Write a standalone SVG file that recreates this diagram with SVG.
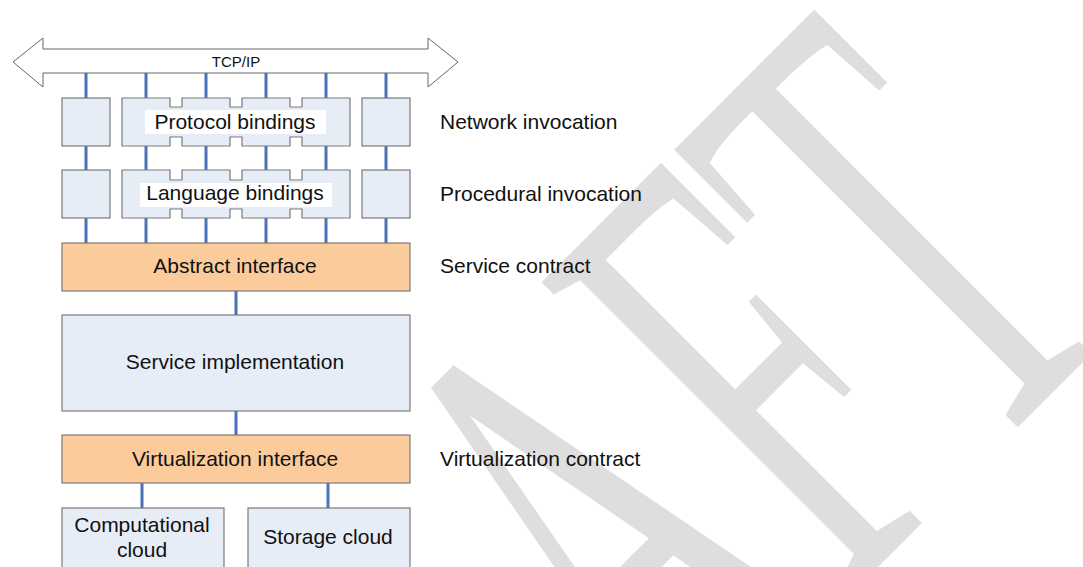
<svg xmlns="http://www.w3.org/2000/svg" width="1083" height="567" viewBox="0 0 1083 567">
<style>
.t{font-family:"Liberation Sans",Arial,sans-serif;font-size:21px;fill:#111;}
.c{text-anchor:middle;}
.box{fill:#e7edf6;stroke:#7a7a7a;stroke-width:1.2;}
.peach{fill:#fccb9b;stroke:#7a7a7a;stroke-width:1.2;}
.lbl{fill:#ffffff;stroke:none;}
.conn line{stroke:#4a72b8;stroke-width:3;}
</style>
<rect width="1083" height="567" fill="#ffffff"/>
<text id="watermark" x="0" y="0" transform="translate(331.5,1113.5) rotate(-45) scale(1,1.95)" style="font-family:'Liberation Serif','Times New Roman',serif;font-size:344px;fill:#dedede;">DRAFT</text>
<g class="conn" id="connectors">
<line x1="86" y1="72" x2="86" y2="243"/>
<line x1="146" y1="72" x2="146" y2="243"/>
<line x1="206" y1="72" x2="206" y2="243"/>
<line x1="266" y1="72" x2="266" y2="243"/>
<line x1="326" y1="72" x2="326" y2="243"/>
<line x1="386" y1="72" x2="386" y2="243"/>
<line x1="236" y1="291" x2="236" y2="315"/>
<line x1="236" y1="411" x2="236" y2="435"/>
<line x1="142" y1="483" x2="142" y2="508"/>
<line x1="328" y1="483" x2="328" y2="508"/>
</g>
<g id="tcpip">
<path d="M13,62 L43,38 L43,49 L428,49 L428,38 L458,62 L428,87 L428,73 L43,73 L43,87 Z" fill="#ffffff" stroke="#666" stroke-width="1"/>
<text class="c" x="236" y="67" style="font-family:'Liberation Sans',Arial,sans-serif;font-size:15px;fill:#111;">TCP/IP</text>
</g>
<g id="protocol-row">
<rect class="box" x="62" y="98" width="48" height="48"/>
<path class="box" d="M122,98 H170 V107 H182 V98 H230 V107 H242 V98 H290 V107 H302 V98 H350 V146 H302 V137 H290 V146 H242 V137 H230 V146 H182 V137 H170 V146 H122 Z"/>
<rect class="box" x="362" y="98" width="48" height="48"/>
<rect class="lbl" x="145" y="110" width="181" height="24"/>
<text class="t c" x="235" y="129">Protocol bindings</text>
</g>
<g id="language-row">
<rect class="box" x="62" y="170" width="48" height="48"/>
<path class="box" d="M122,170 H170 V180 H182 V170 H230 V180 H242 V170 H290 V180 H302 V170 H350 V218 H302 V209 H290 V218 H242 V209 H230 V218 H182 V209 H170 V218 H122 Z"/>
<rect class="box" x="362" y="170" width="48" height="48"/>
<rect class="lbl" x="140" y="183" width="192" height="24"/>
<text class="t c" x="235" y="200">Language bindings</text>
</g>
<g id="abstract-interface">
<rect class="peach" x="62" y="243" width="348" height="48"/>
<text class="t c" x="235" y="273">Abstract interface</text>
</g>
<g id="service-implementation">
<rect class="box" x="62" y="315" width="348" height="96"/>
<text class="t c" x="235" y="369">Service implementation</text>
</g>
<g id="virtualization-interface">
<rect class="peach" x="62" y="435" width="348" height="48"/>
<text class="t c" x="235" y="466">Virtualization interface</text>
</g>
<g id="computational-cloud">
<rect class="box" x="62" y="508" width="162" height="80"/>
<text class="t c" x="142" y="532">Computational</text>
<text class="t c" x="142" y="557">cloud</text>
</g>
<g id="storage-cloud">
<rect class="box" x="248" y="508" width="162" height="80"/>
<text class="t c" x="328" y="544">Storage cloud</text>
</g>
<g id="labels">
<text class="t" x="440" y="129">Network invocation</text>
<text class="t" x="440" y="201">Procedural invocation</text>
<text class="t" x="440" y="273">Service contract</text>
<text class="t" x="440" y="466">Virtualization contract</text>
</g>
</svg>
